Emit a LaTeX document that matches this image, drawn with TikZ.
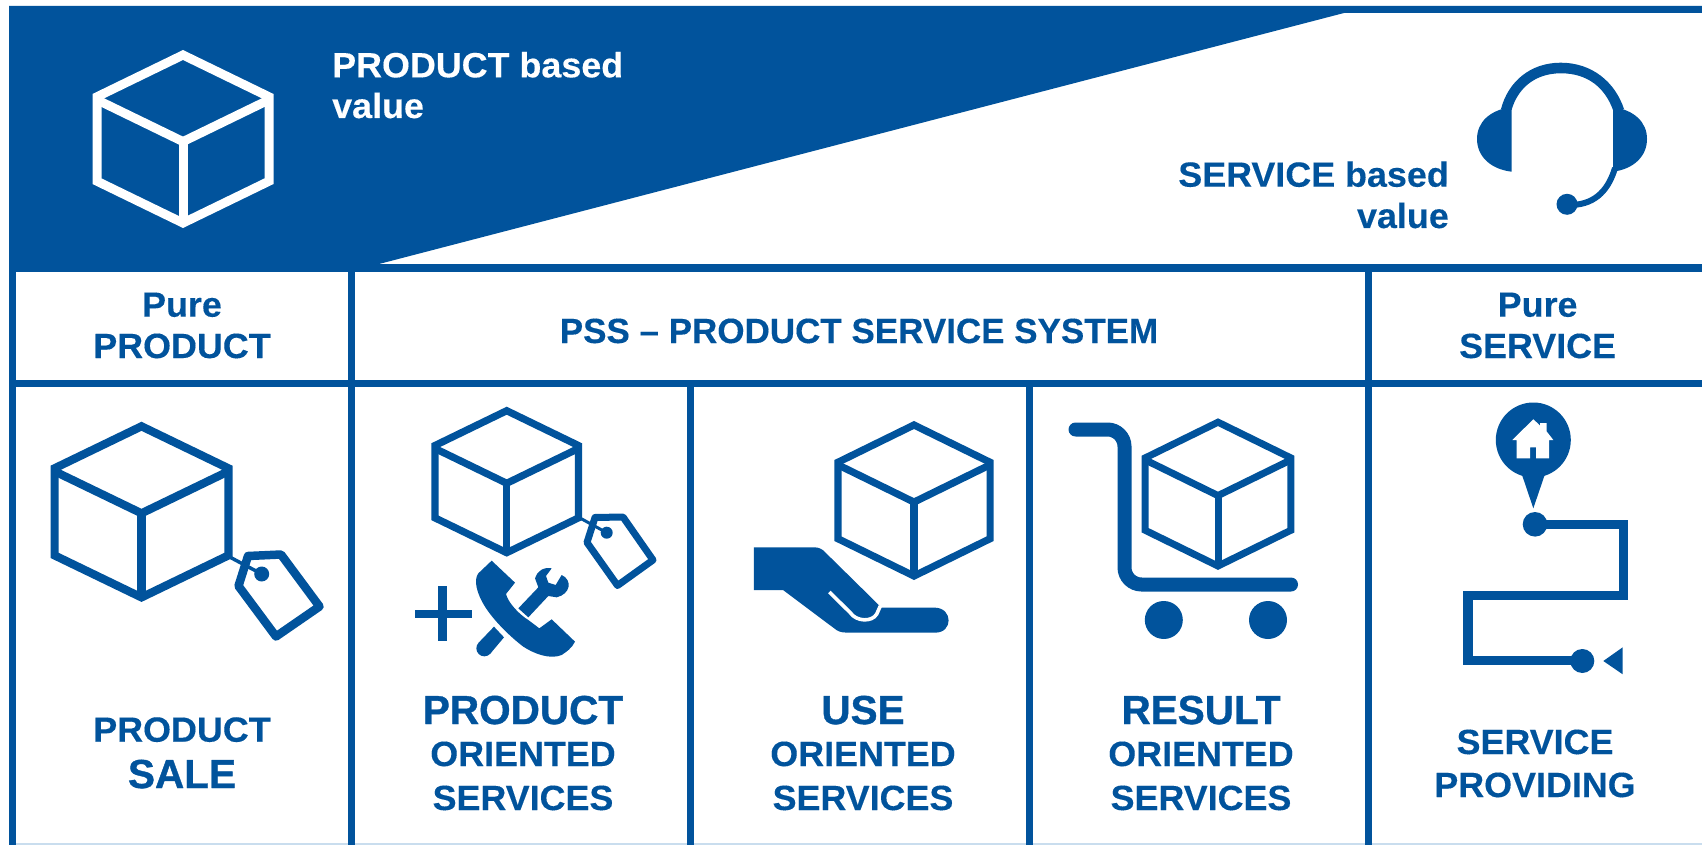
\documentclass[tikz,border=0pt]{standalone}
\usepackage{fontspec}
\setmainfont{Liberation Sans}
\newfontfamily\lblf{Liberation Sans}[UprightFont={* Bold},FakeStretch=1.025,FakeBold=0.25]
\newfontfamily\pssf{Liberation Sans}[UprightFont={* Bold},FakeBold=0.25]
\newfontfamily\bigf{Liberation Sans}[UprightFont={* Bold},FakeBold=0.9]
\definecolor{pssblue}{HTML}{01539C}
\definecolor{pssedge}{HTML}{C9DDEE}
\newcommand\cubeicon[8]{% colour, cx, top, half width, dy, h, line width, drop of the inner Y
  \draw[#1,line width=#7pt,miter limit=10,line join=miter]
    (#2,#3) -- ({#2-#4},{#3+#5}) -- ({#2-#4},{#3+#5+#6}) -- (#2,{#3+2*#5+#6})
    -- ({#2+#4},{#3+#5+#6}) -- ({#2+#4},{#3+#5}) -- cycle;
  \draw[#1,line width=#7pt]
    ({#2-#4},{#3+#5+#8}) -- (#2,{#3+2*#5+#8}) -- ({#2+#4},{#3+#5+#8});
  \draw[#1,line width=#7pt] (#2,{#3+2*#5+#8}) -- (#2,{#3+2*#5+#6});
}
\tikzset{
  lbl/.style={anchor=base,inner sep=0pt,text=pssblue,font=\lblf\fontsize{35}{38}\selectfont},
  lblpss/.style={lbl,font=\pssf\fontsize{35}{38}\selectfont},
  lblbig/.style={lbl,font=\bigf\fontsize{40.5}{44}\selectfont},
  grid/.style={fill=pssblue},
  ink/.style={fill=pssblue},
}
\begin{document}
\begin{tikzpicture}[x=1pt,y=-1pt]
\useasboundingbox (0,0) rectangle (1702,845);
\fill[white] (0,0) rectangle (1702,845);
\fill[pssedge] (9,843.3) rectangle (1702,845);
% header wedge
\fill[pssblue] (9,6) -- (1702,6) -- (1702,13) -- (1344,13) -- (379,264) -- (9,272) -- cycle;
% table lines
\fill[grid] (9,264) rectangle (1702,272);
\fill[grid] (9,380) rectangle (1702,387);
\fill[grid] (9,264) rectangle (16,845);
\fill[grid] (348,264) rectangle (355,845);
\fill[grid] (687,380) rectangle (694,845);
\fill[grid] (1026,380) rectangle (1033,845);
\fill[grid] (1365,264) rectangle (1371.5,845);
% header cube
\cubeicon{white}{183}{55}{86}{41.8}{84.4}{9}{3}
% headset
\fill[ink] (1501,109) .. controls (1508,82) and (1530,62.7) .. (1560.7,62.7)
  .. controls (1592,62.7) and (1615,82) .. (1624,109) -- (1613,110)
  .. controls (1605,88) and (1588,73.3) .. (1561,73.3)
  .. controls (1535,73.3) and (1518,88) .. (1511.5,110) -- cycle;
\fill[ink] (1511.5,107) .. controls (1490,110) and (1477,122) .. (1477,139)
  .. controls (1477,156) and (1490,169) .. (1511.5,171.7) -- cycle;
\fill[ink] (1613,107) .. controls (1634,110) and (1647,122) .. (1647,139)
  .. controls (1647,156) and (1634,169) .. (1613,171.7) -- cycle;
\draw[pssblue,line width=6pt] (1615,168) .. controls (1609,188) and (1597,204) .. (1572,205);
\fill[ink] (1567,204.3) circle (10.5);
% cube + tag: sale
\cubeicon{pssblue}{141.5}{426.3}{86.9}{42}{87.1}{8.2}{3}
\draw[pssblue,line width=8.5pt,line join=round] (248,556) -- (281,554.5) -- (319.5,606.5) -- (276,636.5) -- (238.5,586) -- cycle;
\draw[pssblue,line width=3.5pt] (231,557.7) -- (261.7,574);
\fill[ink] (261.7,574) circle (7.5);
% cube + tag: product oriented
\cubeicon{pssblue}{506.7}{410.7}{71.7}{34.8}{72.4}{7.2}{3}
\draw[pssblue,line width=7pt,line join=round] (595,517.5) -- (623,517) -- (653,560) -- (617.5,585.5) -- (587,542.5) -- cycle;
\draw[pssblue,line width=3pt] (580,518) -- (606.7,532.7);
\fill[ink] (606.7,532.7) circle (6);
% plus
\fill[ink] (415,610) rectangle (471.7,617.7);
\fill[ink] (438.3,585.7) rectangle (447,641);
% phone and wrench (coordinates of the 3x crop)
\begin{scope}[shift={(380,390)},x=0.33333pt,y=-0.33333pt]
\fill[ink] (335,512) -- (405,578) -- (378,612) .. controls (385,640) and (420,675) .. (445,690)
  -- (478,715) -- (515,688) -- (585,755) .. controls (575,775) and (560,785) .. (545,795)
  .. controls (510,810) and (460,790) .. (430,770)
  .. controls (390,740) and (340,690) .. (315,650)
  .. controls (290,610) and (280,570) .. (295,550) -- cycle;
\fill[ink] (415,655) -- (475,592) -- (465,565) .. controls (470,545) and (490,530) .. (515,535)
  -- (498,558) -- (505,578) -- (527,585) -- (545,555)
  .. controls (578,570) and (572,612) .. (530,622) -- (505,618) -- (445,682) -- cycle;
\fill[ink] (342,710) -- (372,742) -- (330,792) -- (296,758) -- cycle;
\fill[ink] (313,775) circle [x radius=24,y radius=24];
\end{scope}
% cube + hand
\cubeicon{pssblue}{914}{425}{76.1}{37.3}{76.4}{7.2}{2.5}
\begin{scope}[shift={(700,390)},x=0.3954pt,y=-0.33333pt]
\fill[ink] (136,472) -- (290,472) .. controls (300,472) and (310,478) .. (315,485)
  -- (435,625) -- (458,653) -- (595,653) .. controls (640,655) and (640,728) .. (595,728)
  -- (385,728) .. controls (365,728) and (355,728) .. (345,720) -- (210,600) -- (136,600) -- cycle;
\draw[white,line width=3.6pt] (327,606) -- (380,668) .. controls (395,695) and (435,697) .. (447,672) -- (456,648);
\end{scope}
% cube + cart
\cubeicon{pssblue}{1218}{422.2}{72.8}{35.7}{72.4}{7}{2}
\draw[pssblue,line width=14pt,line cap=round,rounded corners=17pt] (1075.5,429.5) -- (1124.5,429.5) -- (1124.5,584.5) -- (1291,584.5);
\fill[ink] (1163.8,620) circle (19);
\fill[ink] (1268,620) circle (19);
% route
\fill[ink] (1533.3,440) circle (37.5);
\fill[ink] (1521.7,474) -- (1533.3,508.3) -- (1545,474) -- cycle;
\fill[white] (1512.3,440) -- (1533.3,419.3) -- (1540,425.5) -- (1540,423) -- (1546.7,423) -- (1546.7,431.5) -- (1553.3,440) -- (1549,440) -- (1549,458.3) -- (1536,458.3) -- (1536,447.3) -- (1530,447.3) -- (1530,458.3) -- (1516.7,458.3) -- (1516.7,440) -- cycle;
\draw[pssblue,line width=9.3pt,miter limit=10] (1535,524.7) -- (1623.7,524.7) -- (1623.7,595.5) -- (1468,595.5) -- (1468,660.8) -- (1582.3,660.8);
\fill[ink] (1535,524.3) circle (12.3);
\fill[ink] (1582.3,661) circle (12);
\fill[ink] (1603.3,661) -- (1622.7,647.3) -- (1622.7,674.3) -- cycle;
% texts
\node[lbl,anchor=base west,text=white] (t1) at (332,77.3) {PRODUCT based};
\node[lbl,anchor=base west,text=white] (t2) at (332,118) {value};
\node[lbl,anchor=base east] (t3) at (1449,186.7) {SERVICE based};
\node[lbl,anchor=base east] (t4) at (1449,228) {value};
\node[lbl] (t5) at (182,316.7) {Pure};
\node[lbl] (t6) at (182,358) {PRODUCT};
\node[lblpss] (t7) at (859,343) {PSS – PRODUCT SERVICE SYSTEM};
\node[lbl] (t8) at (1537.6,316.7) {Pure};
\node[lbl] (t9) at (1537.6,358) {SERVICE};
\node[lbl] (t10) at (182,741.7) {PRODUCT};
\node[lblbig] (t11) at (182,788) {SALE};
\node[lblbig] (t12) at (523,724) {PRODUCT};
\node[lbl] (t13) at (523,766) {ORIENTED};
\node[lbl] (t14) at (523,810) {SERVICES};
\node[lblbig] (t15) at (863,724) {USE};
\node[lbl] (t16) at (863,766) {ORIENTED};
\node[lbl] (t17) at (863,810) {SERVICES};
\node[lblbig] (t18) at (1201,724) {RESULT};
\node[lbl] (t19) at (1201,766) {ORIENTED};
\node[lbl] (t20) at (1201,810) {SERVICES};
\node[lbl] (t21) at (1535,754) {SERVICE};
\node[lbl] (t22) at (1535,797) {PROVIDING};
\end{tikzpicture}
\end{document}
